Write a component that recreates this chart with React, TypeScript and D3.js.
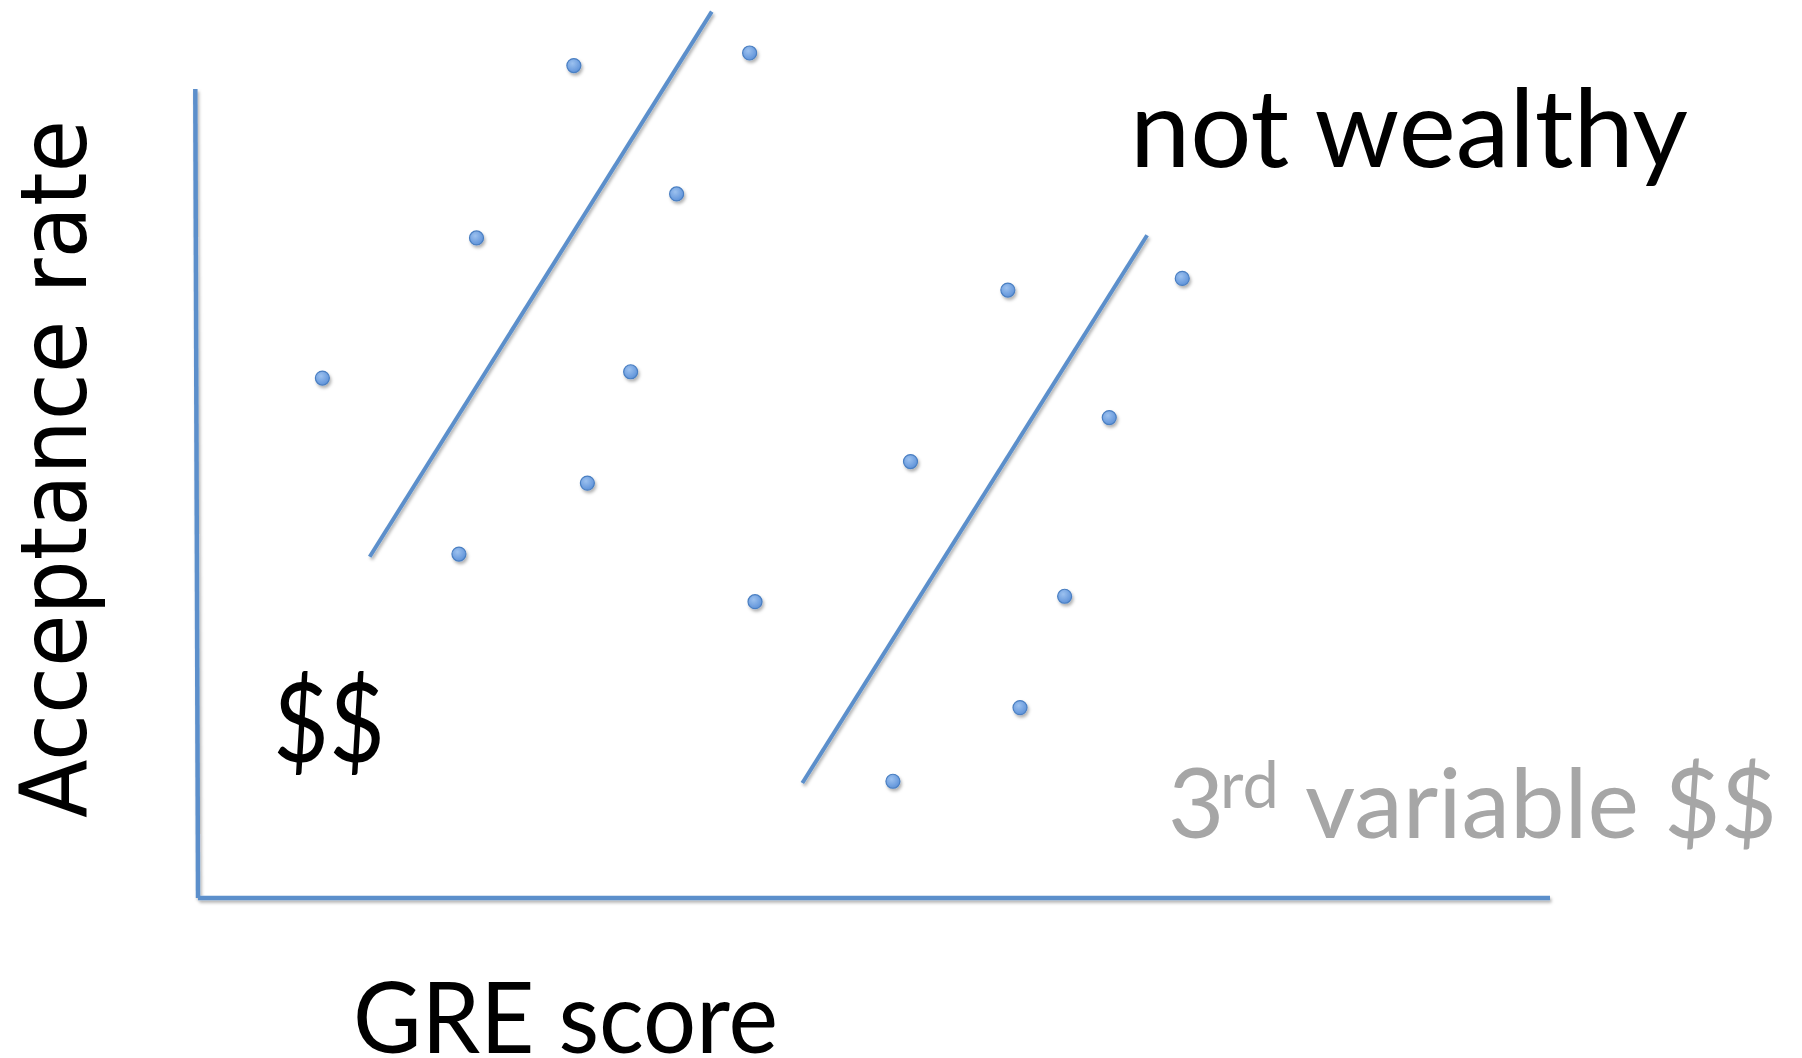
import React, { useEffect } from 'react';
import * as d3 from 'd3';

// arbitrary units: 0-100 on both axes
const wealthyX = [9.2, 20.6, 27.8, 40.8, 35.4, 32.0, 28.8, 19.3, 41.2];
const wealthyY = [57.9, 73.5, 92.7, 94.1, 78.4, 58.6, 46.2, 38.3, 33.0];
const notWealthyX = [52.7, 59.9, 72.8, 67.4, 64.1, 60.8, 51.4];
const notWealthyY = [48.6, 67.7, 69.0, 53.5, 33.6, 21.2, 13.0];

const wealthyTrendX = [12.7, 38.0];
const wealthyTrendY = [38.0, 98.7];
const notWealthyTrendX = [44.7, 70.2];
const notWealthyTrendY = [12.8, 73.8];

const yAxisX = [-0.2, 0];
const yAxisY = [90.1, 0];
const xAxisX = [0, 100];
const xAxisY = [0, 0];

const W = 1802;
const H = 1058;

export default function App() {
  useEffect(() => {
    document.body.style.margin = '0';
  }, []);

  const x = d3.scaleLinear().domain([0, 100]).range([198, 1550]);
  const y = d3.scaleLinear().domain([0, 100]).range([898, 0]);

  const line = d3
    .line<[number, number]>()
    .x(d => x(d[0]))
    .y(d => y(d[1]));

  const zip = (a: number[], b: number[]) => a.map((v, i) => [v, b[i]] as [number, number]);

  const points = [...zip(wealthyX, wealthyY), ...zip(notWealthyX, notWealthyY)];
  const blue = '#5b8fcb';
  const calibri = 'Lato, "Open Sans", sans-serif';

  return (
    <svg width={W} height={H} style={{ display: 'block', background: '#fff' }}>
      <defs>
        <filter id="shadow" x="-20%" y="-20%" width="140%" height="140%">
          <feDropShadow dx="1.5" dy="2.5" stdDeviation="1.5" floodColor="#000" floodOpacity="0.3" />
        </filter>
        <radialGradient id="dot" cx="40%" cy="35%" r="70%">
          <stop offset="0%" stopColor="#9cc1ef" />
          <stop offset="100%" stopColor="#5b90d8" />
        </radialGradient>
      </defs>

      {/* axes */}
      <g stroke={blue} strokeWidth={4.5} fill="none" filter="url(#shadow)">
        <path d={line(zip(yAxisX, yAxisY)) ?? ''} />
        <path d={line(zip(xAxisX, xAxisY)) ?? ''} />
      </g>

      {/* trend lines */}
      <g stroke={blue} strokeWidth={4} fill="none" filter="url(#shadow)">
        <path d={line(zip(wealthyTrendX, wealthyTrendY)) ?? ''} />
        <path d={line(zip(notWealthyTrendX, notWealthyTrendY)) ?? ''} />
      </g>

      {/* points */}
      <g filter="url(#shadow)">
        {points.map((p, i) => (
          <circle
            key={i}
            cx={x(p[0])}
            cy={y(p[1])}
            r={7}
            fill="url(#dot)"
            stroke="#4a7fc2"
            strokeWidth={1.2}
          />
        ))}
      </g>

      {/* labels */}
      <text
        transform="translate(86,818) rotate(-90)"
        fontFamily='"DejaVu Sans", Verdana, sans-serif'
        fontSize={93}
        textLength={698}
        lengthAdjust="spacingAndGlyphs"
        fill="#000"
      >
        Acceptance rate
      </text>
      <text x={353} y={1053} fontFamily={calibri} fontSize={98} textLength={425} lengthAdjust="spacingAndGlyphs" fill="#000">
        GRE score
      </text>
      <text x={1130} y={167} fontFamily={calibri} fontSize={108} textLength={558} lengthAdjust="spacingAndGlyphs" fill="#000">
        not wealthy
      </text>
      <text x={273} y={762} fontFamily={calibri} fontSize={110} textLength={112} lengthAdjust="spacingAndGlyphs" fill="#000">
        $$
      </text>
      <g fontFamily={calibri} fill="#a6a6a6">
        <text x={1168} y={838} fontSize={97}>3</text>
        <text x={1220} y={808} fontSize={65}>rd</text>
        <text x={1305} y={838} fontSize={97} textLength={472} lengthAdjust="spacingAndGlyphs">
          variable $$
        </text>
      </g>
    </svg>
  );
}
